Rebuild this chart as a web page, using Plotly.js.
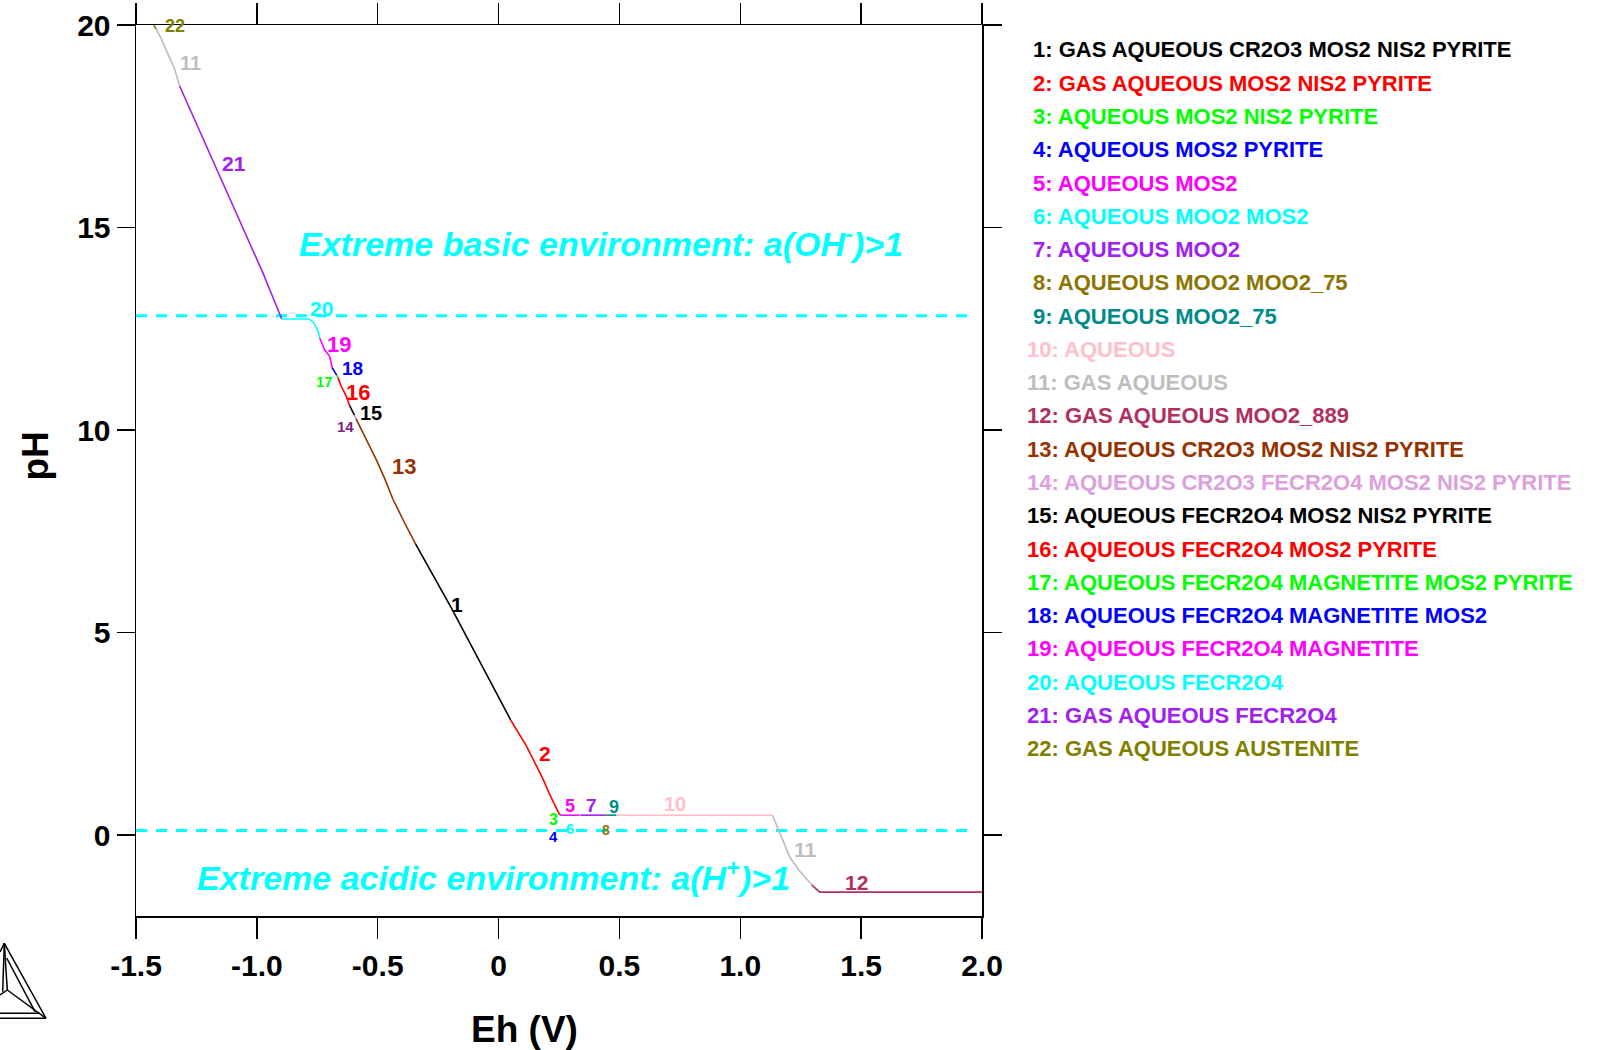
<!DOCTYPE html>
<html>
<head>
<meta charset="utf-8">
<script src="https://cdn.plot.ly/plotly-3.0.1.min.js"></script>
<style>
  html, body { margin: 0; padding: 0; background: #ffffff; }
  #chart { width: 1597px; height: 1050px; }
</style>
</head>
<body>
<div id="chart"></div>
<script>
// Phase fields bordering the stability line (numbered 1..22)
const regionNames = [
  "GAS AQUEOUS CR2O3 MOS2 NIS2 PYRITE",
  "GAS AQUEOUS MOS2 NIS2 PYRITE",
  "AQUEOUS MOS2 NIS2 PYRITE",
  "AQUEOUS MOS2 PYRITE",
  "AQUEOUS MOS2",
  "AQUEOUS MOO2 MOS2",
  "AQUEOUS MOO2",
  "AQUEOUS MOO2 MOO2_75",
  "AQUEOUS MOO2_75",
  "AQUEOUS",
  "GAS AQUEOUS",
  "GAS AQUEOUS MOO2_889",
  "AQUEOUS CR2O3 MOS2 NIS2 PYRITE",
  "AQUEOUS CR2O3 FECR2O4 MOS2 NIS2 PYRITE",
  "AQUEOUS FECR2O4 MOS2 NIS2 PYRITE",
  "AQUEOUS FECR2O4 MOS2 PYRITE",
  "AQUEOUS FECR2O4 MAGNETITE MOS2 PYRITE",
  "AQUEOUS FECR2O4 MAGNETITE MOS2",
  "AQUEOUS FECR2O4 MAGNETITE",
  "AQUEOUS FECR2O4",
  "GAS AQUEOUS FECR2O4",
  "GAS AQUEOUS AUSTENITE"
];

// Boundary pieces in order along the line, each tagged with its field number
const pieceRegion = [22, 11, 21, 20, 19, 18, 17, 16, 15, 14, 13, 1, 2, 3, 4, 5, 6, 7, 8, 9, 10, 11, 12];

const pieceEh = [
  [-1.426, -1.416],
  [-1.416, -1.396, -1.375, -1.341, -1.320],
  [-1.320, -1.251, -1.196, -1.154, -1.092, -1.037, -0.975, -0.897],
  [-0.897, -0.785, -0.768, -0.748, -0.740],
  [-0.740, -0.720, -0.699, -0.688],
  [-0.688, -0.669],
  [-0.669, -0.665],
  [-0.665, -0.651, -0.630, -0.616],
  [-0.616, -0.596],
  [-0.596, -0.590],
  [-0.590, -0.547, -0.506, -0.471, -0.437, -0.389, -0.343],
  [-0.343, -0.195, 0.050],
  [0.050, 0.115, 0.184, 0.211, 0.253],
  [0.253, 0.256],
  [0.256, 0.259],
  [0.259, 0.335],
  [0.335, 0.338],
  [0.338, 0.440],
  [0.440, 0.445],
  [0.445, 0.488],
  [0.488, 1.133],
  [1.133, 1.156, 1.177, 1.205, 1.239, 1.295],
  [1.295, 1.321, 1.329, 2.000]
];

const piecePH = [
  [20.00, 19.89],
  [19.89, 19.67, 19.38, 18.93, 18.50],
  [18.50, 17.58, 16.84, 16.26, 15.44, 14.70, 13.88, 12.74],
  [12.74, 12.74, 12.68, 12.47, 12.27],
  [12.27, 11.98, 11.82, 11.53],
  [11.53, 11.35],
  [11.35, 11.30],
  [11.30, 11.08, 10.83, 10.60],
  [10.60, 10.36],
  [10.36, 10.28],
  [10.28, 9.77, 9.27, 8.80, 8.29, 7.71, 7.18],
  [7.18, 5.60, 2.84],
  [2.84, 2.20, 1.38, 1.01, 0.49],
  [0.49, 0.49],
  [0.49, 0.49],
  [0.49, 0.49],
  [0.49, 0.49],
  [0.49, 0.49],
  [0.49, 0.49],
  [0.49, 0.49],
  [0.49, 0.49],
  [0.49, 0.15, -0.18, -0.55, -0.84, -1.23],
  [-1.23, -1.36, -1.41, -1.41]
];

// Unit-activity limits of OH- and H+
const envLimitPH = [12.82, 0.11];
const envLimitEh = [-1.5, 1.96];

// Axis ticks
const ehTickVals = [-1.5, -1.0, -0.5, 0, 0.5, 1.0, 1.5, 2.0];
const ehTickText = ["-1.5", "-1.0", "-0.5", "0", "0.5", "1.0", "1.5", "2.0"];
const phTickVals = [0, 5, 10, 15, 20];
const phTickText = ["0", "5", "10", "15", "20"];

// ---------------------------------------------------------------------------
// Styling
const regionColors = [
  "#000000", "#ff0000", "#00ff00", "#0000ff", "#ff00ff", "#00ffff",
  "#a020f0", "#8b7500", "#008b8b", "#ffc0cb", "#bebebe", "#b03060",
  "#963200", "#dda0dd", "#000000", "#ff0000", "#00ff00", "#0000ff",
  "#ff00ff", "#00ffff", "#a020f0", "#808000"
];

const FONT = "Liberation Sans, Arial, Helvetica, sans-serif";

// Plot frame in page pixels
const frame = { l: 136, t: 25, w: 846, h: 891 };
const W = 1597, H = 1050;
const pxX = x => (x - frame.l) / frame.w;
const pxY = y => (frame.t + frame.h - y) / frame.h;

const traces = [];

// limit lines
envLimitPH.forEach(v => {
  traces.push({
    type: "scatter", mode: "lines",
    x: envLimitEh, y: [v, v],
    line: { color: "#00ffff", width: 3, dash: "11px,9px" },
    hoverinfo: "skip", showlegend: false
  });
});

// stability line pieces
pieceRegion.forEach((r, i) => {
  traces.push({
    type: "scatter", mode: "lines",
    x: pieceEh[i], y: piecePH[i],
    line: { color: regionColors[r - 1], width: 1.6 },
    name: r + ": " + regionNames[r - 1],
    hoverinfo: "name", showlegend: false
  });
});

// Field number tags beside the line: [field, Eh, pH, size, colour override]
const tagPlacement = [
  [22, -1.337, 19.98, 18],
  [11, -1.274, 19.06, 20],
  [21, -1.095, 16.59, 21],
  [20, -0.733, 13.00, 21],
  [19, -0.661, 12.11, 22],
  [18, -0.605, 11.53, 19],
  [17, -0.720, 11.20, 15],
  [16, -0.582, 10.92, 22],
  [15, -0.527, 10.41, 20],
  [14, -0.633, 10.09, 15, "#802080"],
  [13, -0.393, 9.11, 22],
  [1, -0.171, 5.68, 21],
  [2, 0.194, 2.02, 21],
  [3, 0.229, 0.39, 16],
  [4, 0.229, -0.03, 15],
  [5, 0.294, 0.71, 18],
  [6, 0.294, 0.15, 15],
  [7, 0.384, 0.74, 19],
  [8, 0.443, 0.13, 14],
  [9, 0.478, 0.68, 18],
  [10, 0.729, 0.76, 20],
  [11, 1.271, -0.36, 21],
  [12, 1.481, -1.17, 21]
];

const annotations = [];

tagPlacement.forEach(t => {
  annotations.push({
    xref: "x", yref: "y", x: t[1], y: t[2],
    text: String(t[0]), showarrow: false,
    xanchor: "center", yanchor: "middle",
    font: { family: FONT, size: t[3], weight: "bold", color: t[4] || regionColors[t[0] - 1] }
  });
});

// environment notes
annotations.push({
  xref: "x", yref: "y", x: 0.423, y: 14.66,
  text: "Extreme basic environment: a(OH<sup>-</sup>)>1",
  showarrow: false, xanchor: "center", yanchor: "middle",
  font: { family: FONT, size: 34, weight: "bold", style: "italic", color: "#00ffff" }
});
annotations.push({
  xref: "x", yref: "y", x: -0.021, y: -0.99,
  text: "Extreme acidic environment: a(H<sup>+</sup>)>1",
  showarrow: false, xanchor: "center", yanchor: "middle",
  font: { family: FONT, size: 34, weight: "bold", style: "italic", color: "#00ffff" }
});

// axis titles
annotations.push({
  xref: "paper", yref: "paper", x: pxX(34.6), y: pxY(456),
  text: "pH", textangle: -90, showarrow: false,
  xanchor: "center", yanchor: "middle",
  font: { family: FONT, size: 37, weight: "bold", color: "#000000" }
});
annotations.push({
  xref: "paper", yref: "paper", x: pxX(524.5), y: pxY(1029),
  text: "Eh (V)", showarrow: false,
  xanchor: "center", yanchor: "middle",
  font: { family: FONT, size: 37, weight: "bold", color: "#000000" }
});

// key of field numbers
regionNames.forEach((nm, i) => {
  const k = i + 1;
  annotations.push({
    xref: "paper", yref: "paper",
    x: pxX(k < 10 ? 1031 : 1025), y: pxY(50 + i * 33.27),
    text: k + ": " + nm, showarrow: false,
    xanchor: "left", yanchor: "middle",
    font: { family: FONT, size: 22, weight: "bold", color: regionColors[i] }
  });
});

// small tetrahedron emblem in the lower-left corner
const emblemSegments = [
  [4.3, 943.3, 46, 1018.3],
  [4.3, 943.3, 0, 952],
  [4.3, 943.3, 2.7, 991.7],
  [4.3, 943.3, 7.3, 990],
  [6.7, 958, 35, 1011.7],
  [7.3, 990, 46, 1018.3],
  [0, 995, 7.3, 990],
  [0, 1013.3, 40, 1013.3],
  [0, 1018.3, 46, 1018.3]
];
const shapes = emblemSegments.map(s => ({
  type: "line", xref: "paper", yref: "paper",
  x0: pxX(s[0]), y0: pxY(s[1]), x1: pxX(s[2]), y1: pxY(s[3]),
  line: { color: "#000000", width: 1.5 }
}));

const axisCommon = {
  showline: true, linecolor: "#000000", linewidth: 1.5,
  mirror: "ticks", ticks: "outside", tickwidth: 1.5, tickcolor: "#000000",
  showgrid: false, zeroline: false, fixedrange: true,
  tickfont: { family: FONT, size: 30, weight: "bold", color: "#000000" }
};

const layout = {
  width: W, height: H,
  margin: { l: frame.l, r: W - frame.l - frame.w, t: frame.t, b: H - frame.t - frame.h, pad: 0 },
  paper_bgcolor: "#ffffff", plot_bgcolor: "#ffffff",
  showlegend: false,
  xaxis: Object.assign({}, axisCommon, {
    range: [-1.5, 2.0], tickmode: "array", tickvals: ehTickVals, ticktext: ehTickText,
    ticklen: 21, ticklabelstandoff: 1
  }),
  yaxis: Object.assign({}, axisCommon, {
    range: [-2, 20], tickmode: "array", tickvals: phTickVals, ticktext: phTickText,
    ticklen: 18
  }),
  annotations: annotations,
  shapes: shapes
};

Plotly.newPlot("chart", traces, layout, { displayModeBar: false, staticPlot: true });
</script>
</body>
</html>
